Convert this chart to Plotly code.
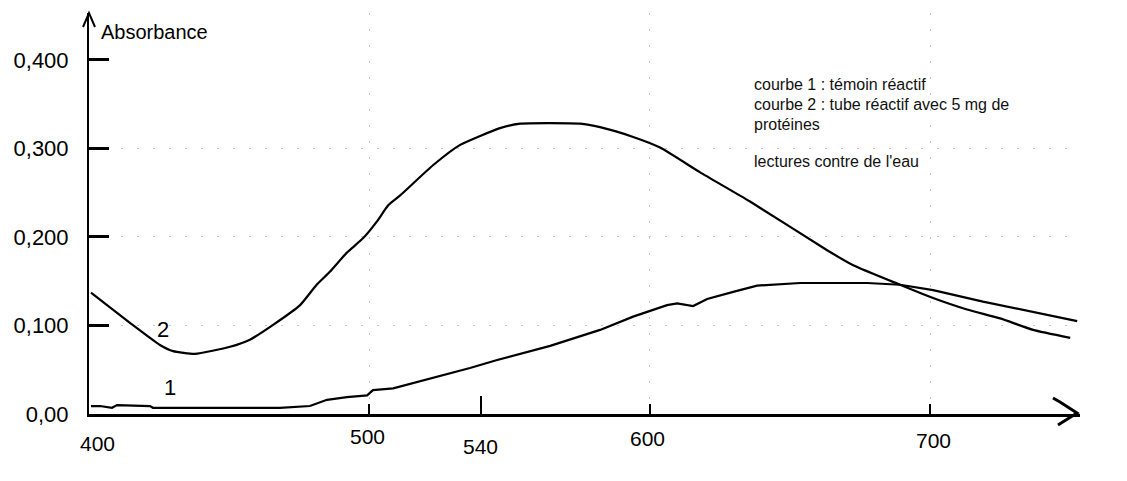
import plotly.graph_objects as go

# ---- data ----
wl2 = [400.7, 414.6, 425.3, 430.0, 437.8, 450.3, 457.4, 465.8, 475.3, 481.2, 486.0, 491.9,
       497.9, 502.6, 506.8, 511.0, 522.7, 532.4, 546.6, 553.8, 575.2, 582.3, 594.1, 603.7,
       618.0, 635.8, 663.3, 672.6, 689.3, 701.1, 713.2, 725.0, 736.8, 750.0]
abs2 = [0.137, 0.103, 0.078, 0.071, 0.068, 0.076, 0.084, 0.101, 0.123, 0.146, 0.161, 0.182,
        0.199, 0.217, 0.236, 0.247, 0.281, 0.304, 0.323, 0.328, 0.328, 0.324, 0.313, 0.301,
        0.273, 0.240, 0.185, 0.168, 0.146, 0.131, 0.118, 0.108, 0.095, 0.086]

wl1 = [400.7, 403.9, 408.2, 410.0, 421.8, 422.8, 468.1, 477.1, 478.8, 484.9, 492.0, 499.2,
       501.3, 508.5, 517.0, 528.8, 535.9, 545.6, 564.5, 582.3, 594.1, 606.2, 609.8, 615.5,
       620.5, 629.8, 638.3, 653.7, 677.6, 689.3, 701.1, 718.9, 736.8, 752.5]
abs1 = [0.009, 0.009, 0.007, 0.010, 0.009, 0.007, 0.007, 0.009, 0.009, 0.016, 0.019, 0.021,
        0.027, 0.029, 0.036, 0.046, 0.052, 0.061, 0.077, 0.095, 0.110, 0.123, 0.125, 0.122,
        0.130, 0.138, 0.145, 0.148, 0.148, 0.146, 0.140, 0.127, 0.115, 0.105]

x_ticks = [400, 500, 540, 600, 700]
x_tick_text = ["400", "500", "540", "600", "700"]
y_ticks = [0, 0.1, 0.2, 0.3, 0.4]
y_tick_text = ["0,00", "0,100", "0,200", "0,300", "0,400"]

legend_lines = ["courbe 1 : témoin réactif",
                "courbe 2 : tube réactif avec 5 mg de",
                "protéines",
                "lectures contre de l'eau"]

FONT = "Liberation Sans, Arial, sans-serif"

fig = go.Figure()
fig.add_trace(go.Scatter(x=wl2, y=abs2, mode="lines", name="courbe 2",
                         line=dict(color="black", width=2.2, shape="spline", smoothing=0.5)))
fig.add_trace(go.Scatter(x=wl1, y=abs1, mode="lines", name="courbe 1",
                         line=dict(color="black", width=2.2)))

# staggered x tick labels (pixel offsets)
x_lab_shift = [8, -2, -1, -2, 3]
y_lab_shift = [-29, -22, -32, -24, -26]
annotations = []
for v, t, dx, dy in zip(x_ticks, x_tick_text, x_lab_shift, y_lab_shift):
    annotations.append(dict(x=v, y=0, xref="x", yref="paper", text=t, showarrow=False,
                            xanchor="center", yanchor="middle", xshift=dx, yshift=dy,
                            font=dict(size=21, color="black", family=FONT)))

annotations.append(dict(x=403.6, y=0.4316, xref="x", yref="y", text="Absorbance", showarrow=False,
                        xanchor="left", yanchor="middle",
                        font=dict(size=20, color="black", family=FONT)))
annotations.append(dict(x=426.4, y=0.096, text="2", showarrow=False, xanchor="center", yanchor="middle",
                        font=dict(size=22, color="black", family=FONT)))
annotations.append(dict(x=428.9, y=0.0305, text="1", showarrow=False, xanchor="center", yanchor="middle",
                        font=dict(size=22, color="black", family=FONT)))
leg_y = [0.3718, 0.3492, 0.3266, 0.2847]
for t, yy in zip(legend_lines, leg_y):
    annotations.append(dict(x=636.5, y=yy, text=t, showarrow=False, xanchor="left", yanchor="middle",
                            font=dict(size=16, color="#111111", family=FONT)))
annotations.append(dict(x=723.2, y=-0.061, text="longueur d'onde en nm", showarrow=False,
                        xanchor="left", yanchor="middle",
                        font=dict(size=13, color="black", family=FONT)))

shapes = [
    # y-axis arrow head
    dict(type="path", xref="paper", yref="paper", xsizemode="pixel", ysizemode="pixel",
         xanchor=0, yanchor=1, path="M -6,-14 L 0,0 L 6,-14",
         line=dict(color="black", width=2)),
    # x-axis arrow head
    dict(type="path", xref="paper", yref="paper", xsizemode="pixel", ysizemode="pixel",
         xanchor=1, yanchor=0, path="M -27,16 L -20,12 L -3,1 L -22,-11",
         line=dict(color="black", width=3)),
]

fig.update_layout(
    width=1127, height=481,
    margin=dict(l=89, r=47, t=13, b=67),
    paper_bgcolor="white", plot_bgcolor="white",
    showlegend=False,
    annotations=annotations,
    shapes=shapes,
    font=dict(family=FONT, color="black"),
    xaxis=dict(range=[400, 753.5], showline=True, linecolor="black", linewidth=3,
               tickvals=[500, 600, 700], ticks="inside", ticklen=10, tickwidth=2, tickcolor="black",
               showticklabels=False, showgrid=True, gridcolor="#c8c8c8", gridwidth=1,
               griddash="2px,14px", zeroline=False,
               minor=dict(tickvals=[540], ticks="inside", ticklen=18, tickwidth=2,
                          tickcolor="black", showgrid=False)),
    yaxis=dict(range=[0, 0.453], showline=True, linecolor="black", linewidth=2,
               tickvals=y_ticks, ticktext=y_tick_text, ticks="inside", ticklen=20, tickwidth=3,
               tickcolor="black", ticklabelstandoff=14,
               tickfont=dict(size=22, color="black", family=FONT),
               showgrid=False, zeroline=False),
)

# dotted horizontal grid at 0.1, 0.2, 0.3 via minor grid
fig.update_yaxes(minor=dict(tickvals=[0.1, 0.2, 0.3], ticks="", showgrid=True,
                            gridcolor="#c8c8c8", gridwidth=1, griddash="2px,14px"))

fig.write_html("out.html", config={"displayModeBar": False},
               post_script="document.body.style.margin='0px';")
